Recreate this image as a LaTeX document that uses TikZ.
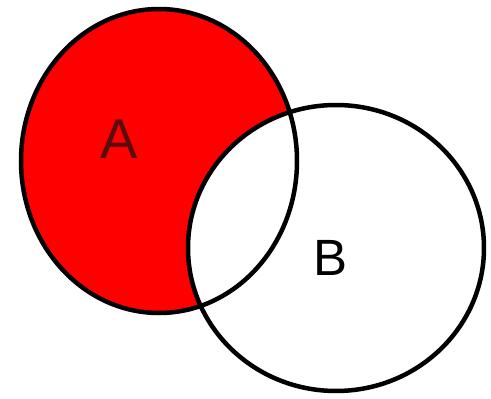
\documentclass[tikz,border=0pt]{standalone}
\usepackage{fontspec}
\setmainfont{Liberation Sans}
\usepackage{xcolor}
\usepackage{tikz}
\definecolor{RojoConj}{RGB}{255,0,0}
\definecolor{LetraA}{RGB}{90,12,12}

\begin{document}
\begin{tikzpicture}[x=1pt,y=-1pt]
  \useasboundingbox (0,0) rectangle (491,399);
  \tikzset{borde/.style={draw=black,line width=4.5pt}}
  % conjunto A, relleno
  \fill[RojoConj] (159,161) ellipse [x radius=138,y radius=152];
  % conjunto B tapa la interseccion
  \fill[white] (336,248) ellipse [x radius=148,y radius=143];
  \draw[borde] (159,161) ellipse [x radius=138,y radius=152];
  \draw[borde] (336,248) ellipse [x radius=148,y radius=143];
  \node[LetraA,font=\fontsize{56}{56}\selectfont] (A) at (119,139) {A};
  \node[font=\fontsize{51}{51}\selectfont] (B) at (331,258) {B};
\end{tikzpicture}
\end{document}
